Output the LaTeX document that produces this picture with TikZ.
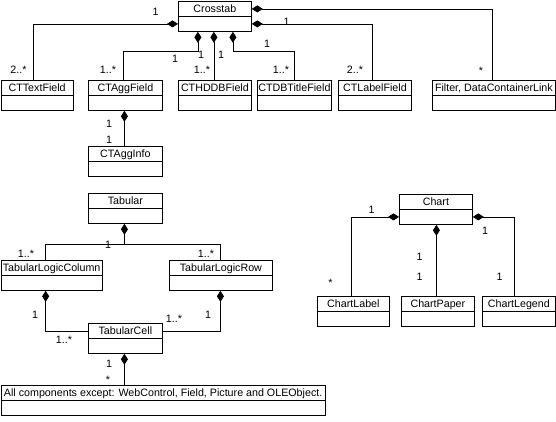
\documentclass[tikz,border=0pt]{standalone}
\usepackage{fontspec}
\setmainfont{Liberation Sans}
\usetikzlibrary{arrows.meta,calc}
\tikzset{
  classbox/.style={draw, line width=0.8pt, inner sep=0pt, minimum height=30},
  thinline/.style={line width=0.8pt},
  boxtitle/.style={inner sep=0pt, font=\fontsize{10.7}{12}\selectfont},
  mult/.style={inner sep=0pt, anchor=base, font=\fontsize{10.7}{12}\selectfont},
  comp/.style={draw, line width=0.8pt, {Diamond[length=11pt,width=7pt]}-},
  conn/.style={draw, line width=0.8pt},
}
\newcommand\umlbox[5]{%
  \node[classbox, minimum width={#4-#2}, anchor=north west] (#1) at (#2,#3) {};
  \draw[thinline] ([yshift=-15pt]#1.north west) -- ([yshift=-15pt]#1.north east);
  \node[boxtitle, anchor=base] (#1-t) at ([yshift=-11.5pt]#1.north) {#5};
}
\begin{document}
\begin{tikzpicture}[x=1pt,y=-1pt]
\fill[white] (0,0) rectangle (556,421);
\useasboundingbox (0,0) rectangle (556,421);
% classes
\umlbox{ct}{178}{1}{251}{Crosstab}
\umlbox{cttext}{0.5}{80}{73}{CTTextField}
\umlbox{ctagg}{88}{80}{162}{CTAggField}
\umlbox{cthddb}{178}{80}{251}{CTHDDBField}
\umlbox{ctdbt}{257}{80}{331}{CTDBTitleField}
\umlbox{ctlabel}{338}{80}{411}{CTLabelField}
\umlbox{filter}{432}{80}{555}{Filter, DataContainerLink}
\umlbox{ctagginfo}{88}{146}{162}{CTAggInfo}
\umlbox{tab}{88}{193}{162}{Tabular}
\umlbox{tlc}{0.5}{260}{102}{TabularLogicColumn}
\umlbox{tlr}{169}{260}{272}{TabularLogicRow}
\umlbox{tc}{88}{323}{162}{TabularCell}
\umlbox{allc}{0.5}{385}{325}{All components except: WebControl, Field, Picture and OLEObject.}
\umlbox{chart}{399}{194}{472}{Chart}
\umlbox{clabel}{317}{296}{389}{ChartLabel}
\umlbox{cpaper}{401}{296}{474}{ChartPaper}
\umlbox{clegend}{482}{296}{555}{ChartLegend}
% Crosstab connectors
\draw[comp] ([yshift=-7.5pt]ct.west) -| ([xshift=-3.5pt]cttext.north);
\draw[comp] ([xshift=-17pt]ct.south) -- ++(0,20) -| ([xshift=-2pt]ctagg.north);
\draw[comp] ([xshift=-1pt]ct.south) -- ([xshift=-1pt]ct.south |- cthddb.north);
\draw[comp] ([xshift=18pt]ct.south) -- ++(0,20) -| (ctdbt.north);
\draw[comp] ([yshift=-7.5pt]ct.east) -| ([xshift=-2.5pt]ctlabel.north);
\draw[comp] ([yshift=7.5pt]ct.east) -| ([xshift=-1.5pt]filter.north);
\draw[comp] ([xshift=-1pt]ctagg.south) -- ([xshift=-1pt]ctagg.south |- ctagginfo.north);
% Tabular connectors
\draw[comp] ([xshift=-1pt]tab.south) -- ++(0,21) -| ([xshift=-6pt]tlc.north);
\draw[conn] ([xshift=-1pt,yshift=-21pt]tab.south) -| ([xshift=-0.5pt]tlr.north);
\draw[comp] ([xshift=-6pt]tlc.south) |- ([yshift=7.5pt]tc.west);
\draw[comp] ([xshift=-0.5pt]tlr.south) |- ([yshift=7.5pt]tc.east);
\draw[comp] ([xshift=-1pt]tc.south) -- ([xshift=-1pt]tc.south |- allc.north);
% Chart connectors
\draw[comp] ([yshift=-7.5pt]chart.west) -| ([xshift=-2pt]clabel.north);
\draw[comp] ([yshift=-7.5pt]chart.east) -| ([xshift=-4.5pt]clegend.north);
\draw[comp] ([xshift=0.5pt]chart.south) -- ([xshift=0.5pt]chart.south |- cpaper.north);
% multiplicities
\node[mult] (m1) at (155.5,15) {1};
\node[mult] (m2) at (18.5,73) {2..*};
\node[mult] (m3) at (108,73) {1..*};
\node[mult] (m4) at (175,62) {1};
\node[mult] (m5) at (201,58) {1};
\node[mult] (m6) at (221,58) {1};
\node[mult] (m7) at (202,73) {1..*};
\node[mult] (m8) at (267,47) {1};
\node[mult] (m9) at (281,73) {1..*};
\node[mult] (m10) at (286.5,25) {1};
\node[mult] (m11) at (355,73) {2..*};
\node[mult] (m12) at (481,74.5) {*};
\node[mult] (m13) at (109,127) {1};
\node[mult] (m14) at (109,143) {1};
\node[mult] (m15) at (26,257) {1..*};
\node[mult] (m16) at (108,248) {1};
\node[mult] (m17) at (206,257) {1..*};
\node[mult] (m18) at (35,318) {1};
\node[mult] (m19) at (64,343) {1..*};
\node[mult] (m20) at (174,322) {1..*};
\node[mult] (m21) at (208,318) {1};
\node[mult] (m22) at (109,367) {1};
\node[mult] (m23) at (108,383.5) {*};
\node[mult] (m24) at (371.5,213) {1};
\node[mult] (m25) at (485,234) {1};
\node[mult] (m26) at (419.5,260) {1};
\node[mult] (m27) at (419.5,280) {1};
\node[mult] (m28) at (499.5,280) {1};
\node[mult] (m29) at (330.5,286.5) {*};
\end{tikzpicture}
\end{document}
